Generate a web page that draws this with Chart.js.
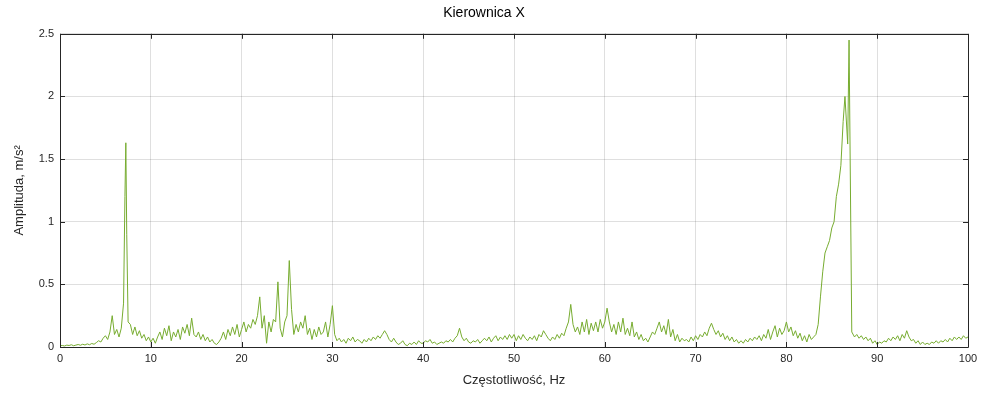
<!DOCTYPE html>
<html>
<head>
<meta charset="utf-8">
<script src="https://cdn.jsdelivr.net/npm/chart.js@4/dist/chart.umd.min.js"></script>
<style>
  html, body { margin: 0; padding: 0; background: #fff; }
  #wrap { width: 983px; height: 394px; }
</style>
</head>
<body>
<div id="wrap"><canvas id="miGrafica" width="983" height="394"></canvas></div>
<script>
const tytul = 'Kierownica X';
const opisX = 'Częstotliwość, Hz';
const opisY = 'Amplituda, m/s²';

const podzialkaX = [0, 10, 20, 30, 40, 50, 60, 70, 80, 90, 100];
const podzialkaY = [0, 0.5, 1, 1.5, 2, 2.5];

// czestotliwosci, Hz
const czestotliwosc = [
  0, 0.25, 0.5, 0.75, 1, 1.25, 1.5, 1.75, 2, 2.25, 2.5, 2.75, 3, 3.25, 3.5, 3.75,
  4, 4.25, 4.5, 4.75, 5, 5.25, 5.5, 5.75, 6, 6.25, 6.5, 6.75, 7, 7.15, 7.25, 7.35, 7.5, 7.75,
  8, 8.25, 8.5, 8.75, 9, 9.25, 9.5, 9.75,
  10, 10.25, 10.5, 10.75, 11, 11.25, 11.5, 11.75, 12, 12.25, 12.5, 12.75, 13, 13.25, 13.5, 13.75,
  14, 14.25, 14.5, 14.75, 15, 15.25, 15.5, 15.75, 16, 16.25, 16.5, 16.75, 17, 17.25, 17.5, 17.75,
  18, 18.25, 18.5, 18.75, 19, 19.25, 19.5, 19.75,
  20, 20.25, 20.5, 20.75, 21, 21.25, 21.5, 21.75, 22, 22.25, 22.5, 22.75, 23, 23.25, 23.5, 23.75,
  24, 24.25, 24.5, 24.75, 25, 25.25, 25.5, 25.75, 26, 26.25, 26.5, 26.75, 27, 27.25, 27.5, 27.75,
  28, 28.25, 28.5, 28.75, 29, 29.25, 29.5, 29.75,
  30, 30.25, 30.5, 30.75, 31, 31.25, 31.5, 31.75, 32, 32.25, 32.5, 32.75, 33, 33.25, 33.5, 33.75,
  34, 34.25, 34.5, 34.75, 35, 35.25, 35.5, 35.75, 36, 36.25, 36.5, 36.75, 37, 37.25, 37.5, 37.75,
  38, 38.25, 38.5, 38.75, 39, 39.25, 39.5, 39.75,
  40, 40.25, 40.5, 40.75, 41, 41.25, 41.5, 41.75, 42, 42.25, 42.5, 42.75, 43, 43.25, 43.5, 43.75,
  44, 44.25, 44.5, 44.75, 45, 45.25, 45.5, 45.75, 46, 46.25, 46.5, 46.75, 47, 47.25, 47.5, 47.75,
  48, 48.25, 48.5, 48.75, 49, 49.25, 49.5, 49.75,
  50, 50.25, 50.5, 50.75, 51, 51.25, 51.5, 51.75, 52, 52.25, 52.5, 52.75, 53, 53.25, 53.5, 53.75,
  54, 54.25, 54.5, 54.75, 55, 55.25, 55.5, 55.75, 56, 56.25, 56.5, 56.75, 57, 57.25, 57.5, 57.75,
  58, 58.25, 58.5, 58.75, 59, 59.25, 59.5, 59.75,
  60, 60.25, 60.5, 60.75, 61, 61.25, 61.5, 61.75, 62, 62.25, 62.5, 62.75, 63, 63.25, 63.5, 63.75,
  64, 64.25, 64.5, 64.75, 65, 65.25, 65.5, 65.75, 66, 66.25, 66.5, 66.75, 67, 67.25, 67.5, 67.75,
  68, 68.25, 68.5, 68.75, 69, 69.25, 69.5, 69.75,
  70, 70.25, 70.5, 70.75, 71, 71.25, 71.5, 71.75, 72, 72.25, 72.5, 72.75, 73, 73.25, 73.5, 73.75,
  74, 74.25, 74.5, 74.75, 75, 75.25, 75.5, 75.75, 76, 76.25, 76.5, 76.75, 77, 77.25, 77.5, 77.75,
  78, 78.25, 78.5, 78.75, 79, 79.25, 79.5, 79.75,
  80, 80.25, 80.5, 80.75, 81, 81.25, 81.5, 81.75, 82, 82.25, 82.5, 82.75, 83, 83.25, 83.5, 83.75,
  84, 84.25, 84.5, 84.75, 85, 85.25, 85.5, 85.75, 86, 86.25, 86.45, 86.75, 86.9, 87.2, 87.5, 87.75,
  88, 88.25, 88.5, 88.75, 89, 89.25, 89.5, 89.75,
  90, 90.25, 90.5, 90.75, 91, 91.25, 91.5, 91.75, 92, 92.25, 92.5, 92.75, 93, 93.25, 93.5, 93.75,
  94, 94.25, 94.5, 94.75, 95, 95.25, 95.5, 95.75, 96, 96.25, 96.5, 96.75, 97, 97.25, 97.5, 97.75,
  98, 98.25, 98.5, 98.75, 99, 99.25, 99.5, 99.75, 100
];

// amplituda, m/s^2
const amplituda = [
  0.01, 0.012, 0.008, 0.015, 0.012, 0.018, 0.01, 0.015, 0.02, 0.014, 0.022, 0.016, 0.025, 0.018, 0.028, 0.022,
  0.035, 0.05, 0.04, 0.07, 0.09, 0.06, 0.12, 0.25, 0.1, 0.14, 0.08, 0.15, 0.35, 1.2, 1.63, 0.9, 0.2, 0.18,
  0.1, 0.16, 0.09, 0.13, 0.07, 0.1, 0.05, 0.08,
  0.04, 0.07, 0.03, 0.08, 0.12, 0.06, 0.15, 0.09, 0.17, 0.05, 0.12, 0.08, 0.14, 0.06, 0.16, 0.11,
  0.18, 0.09, 0.23, 0.1, 0.08, 0.12, 0.06, 0.1, 0.05, 0.08, 0.04, 0.06, 0.03, 0.02, 0.04, 0.07,
  0.12, 0.06, 0.14, 0.09, 0.16, 0.1, 0.18, 0.08,
  0.14, 0.2, 0.12, 0.18, 0.15, 0.22, 0.18, 0.25, 0.4, 0.15, 0.25, 0.03, 0.2, 0.12, 0.22, 0.2,
  0.52, 0.15, 0.08, 0.2, 0.25, 0.69, 0.3, 0.1, 0.18, 0.12, 0.2, 0.15, 0.25, 0.1, 0.15, 0.06,
  0.14, 0.08, 0.16, 0.1, 0.12, 0.2, 0.08, 0.18,
  0.33, 0.1, 0.05, 0.07, 0.04, 0.06, 0.03, 0.07, 0.05, 0.08, 0.04, 0.06, 0.05, 0.03, 0.06, 0.04,
  0.07, 0.05, 0.08, 0.06, 0.09, 0.07, 0.1, 0.13, 0.1, 0.06, 0.04, 0.07, 0.04, 0.02, 0.03, 0.05,
  0.02, 0.01, 0.03, 0.02, 0.04, 0.02, 0.05, 0.03,
  0.03, 0.05, 0.04, 0.06, 0.03, 0.04, 0.02, 0.03, 0.04, 0.03, 0.05, 0.04, 0.06, 0.04, 0.07, 0.09,
  0.15, 0.08, 0.05, 0.07, 0.04, 0.03, 0.05, 0.04, 0.06, 0.03, 0.05, 0.07, 0.05, 0.08, 0.04, 0.07,
  0.09, 0.05, 0.08, 0.06, 0.09, 0.06, 0.1, 0.07,
  0.1, 0.05, 0.09, 0.06, 0.1, 0.07, 0.05, 0.08, 0.06, 0.09, 0.05, 0.1, 0.08, 0.13, 0.1, 0.07,
  0.05, 0.08, 0.06, 0.1, 0.07, 0.11, 0.09, 0.15, 0.2, 0.34, 0.18, 0.12, 0.16, 0.1, 0.2, 0.12,
  0.22, 0.1, 0.19, 0.13, 0.2, 0.12, 0.22, 0.15,
  0.2, 0.31, 0.2, 0.12, 0.18, 0.1, 0.2, 0.12, 0.23, 0.1, 0.15, 0.09, 0.2, 0.08, 0.12, 0.06,
  0.1, 0.05, 0.07, 0.04, 0.08, 0.12, 0.1, 0.15, 0.2, 0.12, 0.17, 0.1, 0.22, 0.08, 0.14, 0.05,
  0.1, 0.04, 0.07, 0.05, 0.06, 0.04, 0.08, 0.05,
  0.09, 0.06, 0.1, 0.08, 0.12, 0.09, 0.15, 0.19, 0.14, 0.1, 0.13, 0.08, 0.11, 0.06, 0.09, 0.05,
  0.08, 0.04, 0.06, 0.03, 0.05, 0.03, 0.06, 0.04, 0.07, 0.05, 0.08, 0.06, 0.09, 0.05, 0.1, 0.07,
  0.14, 0.06, 0.12, 0.17, 0.08, 0.15, 0.1, 0.13,
  0.2, 0.12, 0.16, 0.09, 0.13, 0.07, 0.11, 0.05, 0.09, 0.04, 0.1, 0.06, 0.08, 0.1, 0.18, 0.4,
  0.6, 0.75, 0.8, 0.85, 0.95, 1.0, 1.2, 1.3, 1.45, 1.8, 2.0, 1.62, 2.45, 0.12, 0.08, 0.1,
  0.07, 0.09, 0.06, 0.08, 0.05, 0.07, 0.03, 0.05,
  0.02, 0.04, 0.03, 0.05, 0.04, 0.07, 0.05, 0.08, 0.06, 0.09, 0.05, 0.1, 0.07, 0.13, 0.08, 0.05,
  0.06, 0.03, 0.05, 0.02, 0.04, 0.02, 0.03, 0.02, 0.04, 0.03, 0.05, 0.03, 0.05, 0.04, 0.06, 0.04,
  0.07, 0.05, 0.08, 0.06, 0.08, 0.06, 0.09, 0.07, 0.08
];

const punkty = czestotliwosc.map((f, i) => ({ x: f, y: amplituda[i] }));

const kolorOsi = '#262626';
const czcionka = '"Liberation Sans", Arial, Helvetica, sans-serif';

// ramka i znaczniki do wewnatrz (jak w MATLAB)
const ramka = {
  id: 'ramka',
  afterDraw(chart) {
    const { ctx, chartArea: a, scales } = chart;
    const dl = 5;
    ctx.save();
    ctx.strokeStyle = kolorOsi;
    ctx.lineWidth = 1;
    ctx.beginPath();
    ctx.rect(Math.round(a.left) + 0.5, Math.round(a.top) + 0.5,
             Math.round(a.right - a.left), Math.round(a.bottom - a.top));
    scales.x.ticks.forEach(t => {
      const px = Math.round(scales.x.getPixelForValue(t.value)) + 0.5;
      ctx.moveTo(px, a.bottom); ctx.lineTo(px, a.bottom - dl);
      ctx.moveTo(px, a.top); ctx.lineTo(px, a.top + dl);
    });
    scales.y.ticks.forEach(t => {
      const py = Math.round(scales.y.getPixelForValue(t.value)) + 0.5;
      ctx.moveTo(a.left, py); ctx.lineTo(a.left + dl, py);
      ctx.moveTo(a.right, py); ctx.lineTo(a.right - dl, py);
    });
    ctx.stroke();
    ctx.restore();
  }
};

const ctx = document.getElementById('miGrafica').getContext('2d');

new Chart(ctx, {
  type: 'line',
  data: {
    datasets: [{
      label: tytul,
      data: punkty,
      borderColor: '#77ac30',
      borderWidth: 1,
      pointRadius: 0,
      tension: 0,
      fill: false
    }]
  },
  options: {
    responsive: false,
    animation: false,
    layout: { padding: { left: 0, right: 15, top: 0, bottom: 0 } },
    plugins: {
      legend: { display: false },
      tooltip: { enabled: false },
      title: {
        display: true,
        text: tytul,
        color: '#000',
        font: { family: czcionka, size: 14, weight: 'normal' },
        padding: { top: 5, bottom: 12 }
      }
    },
    scales: {
      x: {
        type: 'linear',
        min: 0,
        max: 100,
        afterBuildTicks: s => { s.ticks = podzialkaX.map(v => ({ value: v })); },
        afterFit: s => { s.height = 47; },
        ticks: { color: kolorOsi, font: { family: czcionka, size: 11 }, padding: 5, maxRotation: 0,
                 callback: v => String(v) },
        grid: { color: 'rgba(38,38,38,0.15)', drawTicks: false },
        border: { display: false },
        title: {
          display: true,
          text: opisX,
          color: kolorOsi,
          font: { family: czcionka, size: 13 },
          padding: { top: 0, bottom: 6 }
        }
      },
      y: {
        min: 0,
        max: 2.5,
        afterBuildTicks: s => { s.ticks = podzialkaY.map(v => ({ value: v })); },
        afterFit: s => { s.width = 60; },
        ticks: { color: kolorOsi, font: { family: czcionka, size: 11 }, padding: 6,
                 callback: v => String(v) },
        grid: { color: 'rgba(38,38,38,0.15)', drawTicks: false },
        border: { display: false },
        title: {
          display: true,
          text: opisY,
          color: kolorOsi,
          font: { family: czcionka, size: 13 },
          padding: { top: 12, bottom: 0 }
        }
      }
    }
  },
  plugins: [ramka]
});
</script>
</body>
</html>
